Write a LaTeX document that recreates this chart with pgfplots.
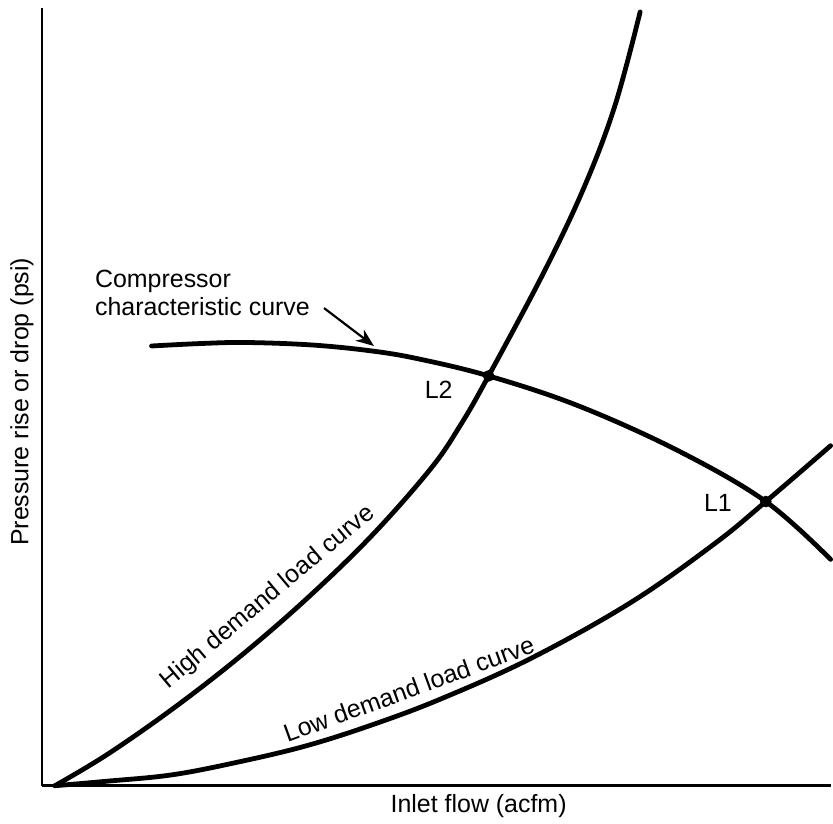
\documentclass[border=0pt]{standalone}
\usepackage{pgfplots}
\pgfplotsset{compat=1.18}
\usepackage{fontspec}
\setmainfont{Liberation Sans}
\usetikzlibrary{arrows.meta}
\begin{document}
\begin{tikzpicture}
\begin{axis}[
  scale only axis,
  width=395.5pt, height=390pt,
  xmin=0, xmax=791, ymin=0, ymax=780,
  axis x line=bottom, axis y line=left,
  axis line style={-, line width=1.3pt},
  ticks=none,
  clip=false,
  font=\fontsize{12.5}{14}\selectfont,
]
% invisible frame fixing the picture size
\path (axis cs:-42,-33) rectangle (axis cs:791,788);
% High demand load curve
\addplot[line width=2.4pt, line cap=round, smooth, tension=0.6] coordinates {
 (13,0) (65,31) (131,77) (198,129) (265,187) (331,251) (390,318) (420,362)
 (448,411) (505,518) (545,603) (575,683) (600,776)};
% Low demand load curve
\addplot[line width=2.4pt, line cap=round, smooth, tension=0.6] coordinates {
 (13,0) (65,4.5) (131,11) (198,24) (265,40) (331,61) (400,87) (491,128)
 (591,184) (675,243) (726,285) (791,341)};
% Compressor characteristic curve
\addplot[line width=2.4pt, line cap=round, smooth, tension=0.6] coordinates {
 (110,441) (160,443.5) (205,444.5) (271,442) (331,436) (378,428) (448,411)
 (538,381) (638,336) (726,285) (791,227)};
% operating points
\addplot[only marks, mark=*, mark size=2.7pt, black] coordinates {(448,411) (726,285)};
% labels
\node[anchor=west, align=left, inner sep=0pt] at (axis cs:53,494) {Compressor\\characteristic curve};
\draw[line width=1.1pt, -{Stealth[length=9pt,width=7pt]}] (axis cs:283,479) -- (axis cs:333,441);
\node at (axis cs:398,397) {L2};
\node at (axis cs:678,284) {L1};
\node[rotate=40] at (axis cs:227,189) {High demand load curve};
\node[rotate=20] at (axis cs:368,97) {Low demand load curve};
\node at (axis cs:438,-20) {Inlet flow (acfm)};
\node[rotate=90] at (axis cs:-20,385) {Pressure rise or drop (psi)};
\end{axis}
\end{tikzpicture}
\end{document}
